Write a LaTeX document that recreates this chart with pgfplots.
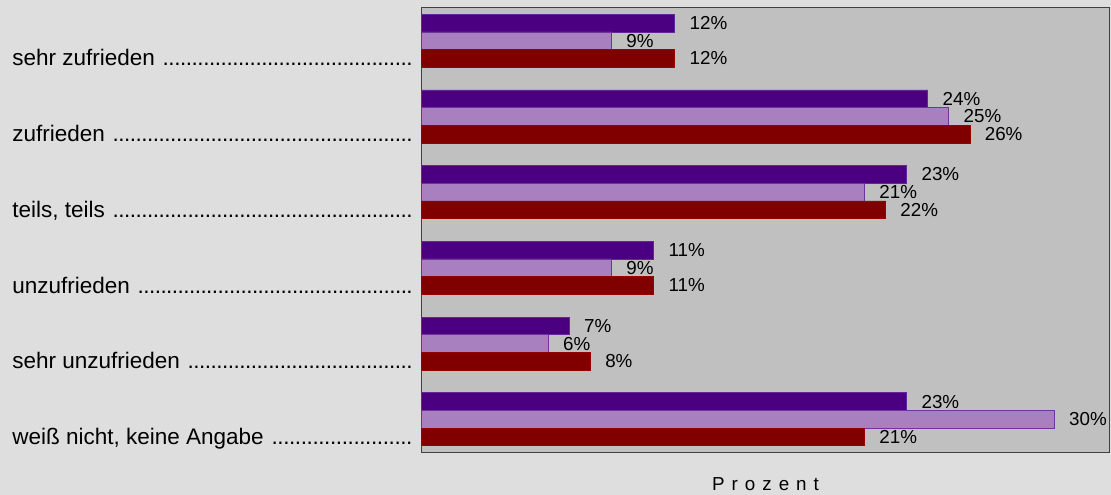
\documentclass[border=0pt]{standalone}
\usepackage{fontspec}
\setmainfont{Liberation Sans}
\usepackage{pgfplots}
\pgfplotsset{compat=1.18}

\definecolor{bgc}{HTML}{DEDEDE}
\definecolor{plotbg}{HTML}{C0C0C0}
\definecolor{ser1}{HTML}{4B0082}
\definecolor{ser2}{HTML}{A880C0}
\definecolor{ser3}{HTML}{800000}

% category label with dotted leader up to the axis
\newcommand{\cat}[1]{\makebox[400pt][l]{#1\hspace{8pt}\xleaders\hbox to 5.7pt{\hss.\hss}\hfill}}

\begin{document}
\begin{tikzpicture}
\fill[bgc] (0,0) rectangle (1111pt,495pt);
\useasboundingbox (0,0) rectangle (1111pt,495pt);
\begin{axis}[
    at={(421.7pt,42.3pt)}, anchor=south west,
    scale only axis, width=687.6pt, height=445.4pt,
    xmin=0, xmax=32.61, ymin=-0.4425, ymax=5.4425, y dir=reverse,
    xtick=\empty, ytick=\empty,
    axis background/.style={fill=plotbg},
    axis line style={black!75, line width=1.2pt},
    clip=false,
    /pgf/number format/assume math mode=true,
    xbar, bar width=17.7pt, bar shift=0pt,
    point meta=x,
    nodes near coords={\pgfmathprintnumber{\pgfplotspointmeta}\%},
    every node near coord/.append style={anchor=west, inner sep=0pt, xshift=14.5pt,
        font=\fontsize{18.8}{22}\selectfont, text=black},
]
    % series 1 (dark purple)
    \addplot[fill=ser1, draw=ser1!85!white, line width=0.8pt] coordinates {
        (12,-0.2334) (24,0.7666) (23,1.7666) (11,2.7666) (7,3.7666) (23,4.7666)
    };
    % series 2 (light purple)
    \addplot[fill=ser2, draw=ser1!80!white, line width=0.8pt] coordinates {
        (9,0) (25,1) (21,2) (9,3) (6,4) (30,5)
    };
    % series 3 (dark red)
    \addplot[fill=ser3, draw=ser3!80!red, line width=0.8pt] coordinates {
        (12,0.2334) (26,1.2334) (22,2.2334) (11,3.2334) (8,4.2334) (21,5.2334)
    };

    \begin{scope}[every node/.style={anchor=base east, inner sep=0pt, font=\fontsize{22.5}{26}\selectfont}]
    \node at ([xshift=-9.2pt]axis cs:0,0.333) {\cat{sehr zufrieden}};
    \node at ([xshift=-9.2pt]axis cs:0,1.333) {\cat{zufrieden}};
    \node at ([xshift=-9.2pt]axis cs:0,2.333) {\cat{teils, teils}};
    \node at ([xshift=-9.2pt]axis cs:0,3.333) {\cat{unzufrieden}};
    \node at ([xshift=-9.2pt]axis cs:0,4.333) {\cat{sehr unzufrieden}};
    \node at ([xshift=-9.2pt]axis cs:0,5.333) {\cat{weiß nicht, keine Angabe}};
    \end{scope}

    \node[anchor=base, inner sep=0pt, font=\fontsize{18.8}{22}\selectfont]
        at ([yshift=-37.8pt]axis description cs:0.5,0)
        {P\kern7pt r\kern7pt o\kern7pt z\kern7pt e\kern7pt n\kern7pt t};
\end{axis}
\end{tikzpicture}
\end{document}
